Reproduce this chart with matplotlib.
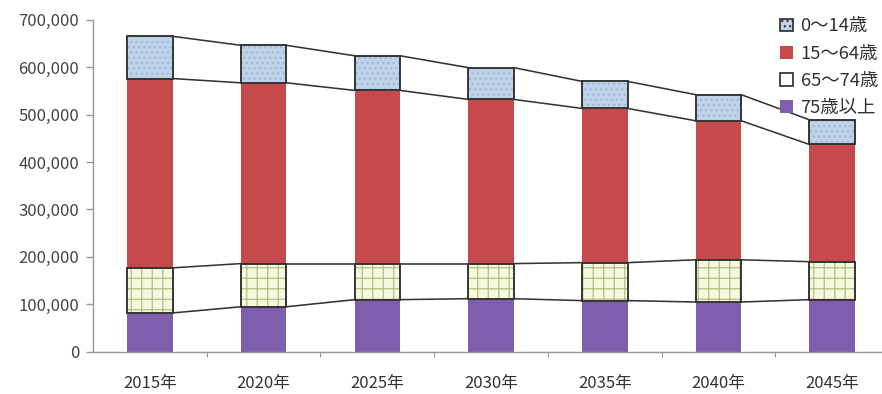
import numpy as np
import matplotlib.pyplot as plt
from matplotlib.patches import Patch
from matplotlib.ticker import FuncFormatter, FixedLocator

plt.rcParams['font.family'] = ['Noto Sans CJK JP', 'DejaVu Sans']
plt.rcParams['hatch.linewidth'] = 0.7

years = ['2015年', '2020年', '2025年', '2030年', '2035年', '2040年', '2045年']
age_75_plus = [82000, 95000, 110000, 112000, 108000, 105000, 110000]
age_65_74 = [95000, 91000, 76000, 74000, 80000, 89000, 80000]
age_15_64 = [399000, 381000, 365000, 346000, 325000, 293000, 247000]
age_0_14 = [89000, 79000, 73000, 67000, 57000, 55000, 52000]
labels = ['0～14歳', '15～64歳', '65～74歳', '75歳以上']

x = np.arange(len(years))
w = 0.4
edge = '#333333'

fig = plt.figure(figsize=(7, 394 / 126), dpi=126)
ax = fig.add_axes([0.1055, 0.107, 0.9025, 0.843])

b1 = np.array(age_75_plus)
b2 = b1 + np.array(age_65_74)
b3 = b2 + np.array(age_15_64)
b4 = b3 + np.array(age_0_14)

# 75+ and 15-64: plain fills
ax.bar(x, age_75_plus, w, color='#7e5fae', linewidth=0)
ax.bar(x, age_15_64, w, bottom=b2, color='#c64a4b', linewidth=0)
# 65-74: pale grid
ax.bar(x, age_65_74, w, bottom=b1, color='#f7f9df', edgecolor='#b4bc84',
       hatch='++', linewidth=0)
ax.bar(x, age_65_74, w, bottom=b1, fill=False, edgecolor=edge, linewidth=1.1)
# 0-14: dotted light blue
ax.bar(x, age_0_14, w, bottom=b3, color='#bed2ea', edgecolor='#a2b6d4',
       hatch='....', linewidth=0)
ax.bar(x, age_0_14, w, bottom=b3, fill=False, edgecolor=edge, linewidth=1.1)

# connector lines between bars
for level in (b1, b2, b3, b4):
    for i in range(len(x) - 1):
        ax.plot([x[i] + w / 2, x[i + 1] - w / 2], [level[i], level[i + 1]],
                color=edge, lw=0.9, zorder=1)

ax.set_xlim(-0.5, len(years) - 0.5)
ax.set_ylim(0, 700000)
ax.set_yticks(np.arange(0, 700001, 100000))
ax.yaxis.set_major_formatter(FuncFormatter(lambda v, p: f'{int(v):,}'))
ax.set_xticks(x)
ax.set_xticklabels(years)
ax.xaxis.set_minor_locator(FixedLocator(x[:-1] + 0.5))
ax.tick_params(axis='x', which='major', length=0, pad=13, labelsize=9.5,
               labelcolor='#333333')
ax.tick_params(axis='x', which='minor', length=3, color='#999999')
ax.tick_params(axis='y', length=4, color='#999999', labelsize=9.5,
               labelcolor='#444444', pad=4)
for s in ('top', 'right'):
    ax.spines[s].set_visible(False)
for s in ('left', 'bottom'):
    ax.spines[s].set_color('#999999')

handles = [
    Patch(facecolor='#bed2ea', edgecolor=edge, hatch='....'),
    Patch(facecolor='#c64a4b', edgecolor='none'),
    Patch(facecolor='white', edgecolor=edge),
    Patch(facecolor='#7e5fae', edgecolor='none'),
]
ax.legend(handles, labels, loc='upper right', bbox_to_anchor=(1.0, 1.04),
          frameon=False, fontsize=10.5, handlelength=0.7, handleheight=0.7,
          handletextpad=0.4, labelspacing=0.5, labelcolor='#333333',
          borderaxespad=0.2)

fig.savefig('out.png', dpi=126)
